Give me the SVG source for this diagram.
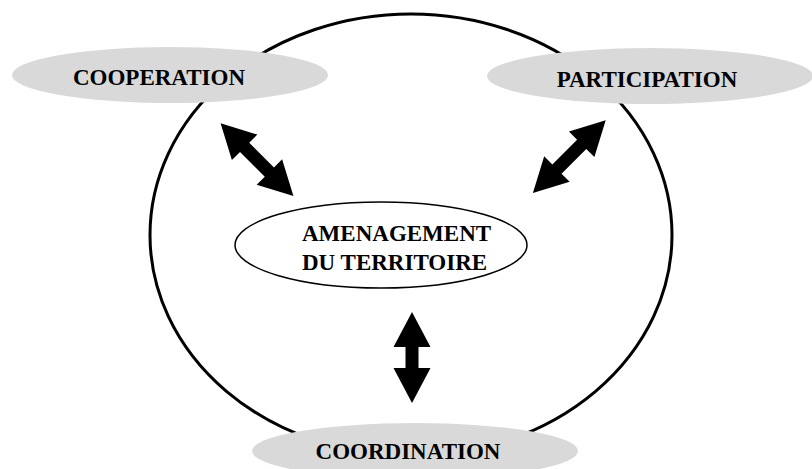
<svg xmlns="http://www.w3.org/2000/svg" width="812" height="469" viewBox="0 0 812 469">
  <style>
    .ring { fill: none; stroke: #000; stroke-width: 3; }
    .actor { fill: #d9d9d9; stroke: none; }
    .core { fill: #fff; stroke: #000; stroke-width: 1.5; }
    .label { font-family: "Liberation Serif", "Times New Roman", serif; font-weight: bold; font-size: 23px; fill: #000; }
    .link { fill: #000; stroke: none; }
  </style>
  <defs>
    <!-- double-headed block arrow, centred on the origin, pointing along x -->
    <polygon id="dbl-long" points="-51.5,0 -17.5,-18 -17.5,-6.5 17.5,-6.5 17.5,-18 51.5,0 17.5,18 17.5,6.5 -17.5,6.5 -17.5,18"/>
    <polygon id="dbl-short" points="-45.5,0 -10.5,-18.5 -10.5,-6.5 10.5,-6.5 10.5,-18.5 45.5,0 10.5,18.5 10.5,6.5 -10.5,6.5 -10.5,18.5"/>
  </defs>

  <rect width="812" height="469" fill="#fff"/>

  <!-- outer ring enclosing the planning process -->
  <ellipse class="ring" cx="411" cy="235" rx="261" ry="221"/>

  <!-- connectors -->
  <g id="connectors" class="link">
    <use href="#dbl-long" transform="translate(257 159.7) rotate(45)"/>
    <use href="#dbl-long" transform="translate(569.3 156.7) rotate(-45)"/>
    <use href="#dbl-short" transform="translate(412 357.5) rotate(90)"/>
  </g>

  <g id="cooperation">
    <ellipse class="actor" cx="170" cy="75" rx="158" ry="28"/>
    <text class="label" x="159" y="85" text-anchor="middle">COOPERATION</text>
  </g>

  <g id="participation">
    <ellipse class="actor" cx="650" cy="76" rx="163" ry="28"/>
    <text class="label" x="647" y="87" text-anchor="middle">PARTICIPATION</text>
  </g>

  <g id="amenagement">
    <ellipse class="core" cx="381" cy="245" rx="146" ry="43"/>
    <text class="label" x="302" y="241">AMENAGEMENT</text>
    <text class="label" x="302" y="270">DU TERRITOIRE</text>
  </g>

  <g id="coordination">
    <ellipse class="actor" cx="415" cy="451" rx="163" ry="28"/>
    <text class="label" x="408" y="459" text-anchor="middle">COORDINATION</text>
  </g>
</svg>
